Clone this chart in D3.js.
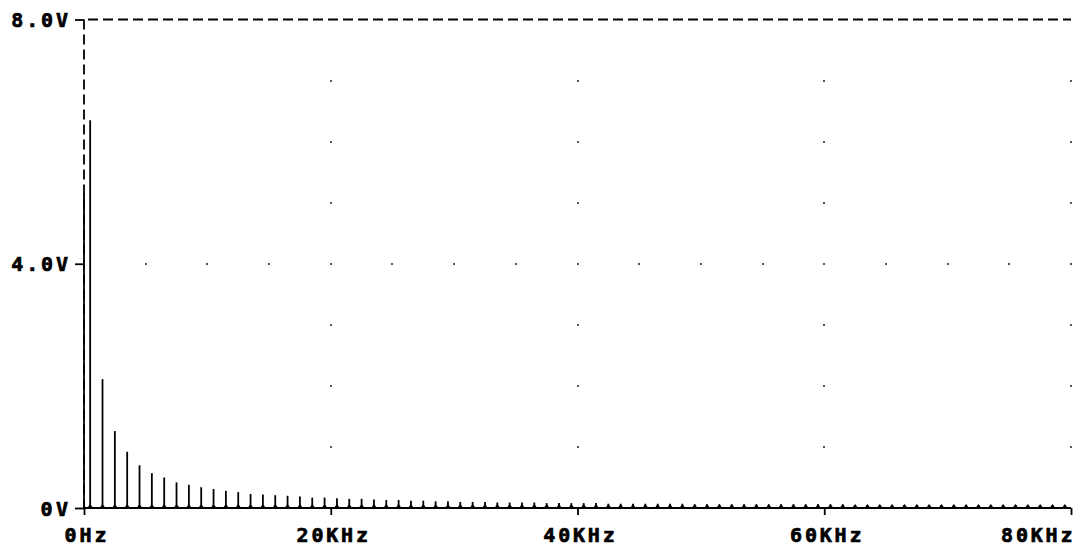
<!DOCTYPE html>
<html>
<head>
<meta charset="utf-8">
<script src="https://cdn.jsdelivr.net/npm/d3@7"></script>
<style>
  body { margin: 0; background: #fff; }
  svg { display: block; }
  .lbl { font-family: "DejaVu Sans Mono", monospace; font-weight: bold; font-size: 20px; fill: #000; stroke: #000; stroke-width: 0.7px; }
</style>
</head>
<body>
<div id="chart"></div>
<script>
// FFT spectrum: DC term plus odd harmonics of 500Hz
var freqKHz = [0, 0.5, 1.5, 2.5, 3.5, 4.5, 5.5, 6.5, 7.5, 8.5, 9.5,
    10.5, 11.5, 12.5, 13.5, 14.5, 15.5, 16.5, 17.5, 18.5, 19.5,
    20.5, 21.5, 22.5, 23.5, 24.5, 25.5, 26.5, 27.5, 28.5, 29.5,
    30.5, 31.5, 32.5, 33.5, 34.5, 35.5, 36.5, 37.5, 38.5, 39.5,
    40.5, 41.5, 42.5, 43.5, 44.5, 45.5, 46.5, 47.5, 48.5, 49.5,
    50.5, 51.5, 52.5, 53.5, 54.5, 55.5, 56.5, 57.5, 58.5, 59.5,
    60.5, 61.5, 62.5, 63.5, 64.5, 65.5, 66.5, 67.5, 68.5, 69.5,
    70.5, 71.5, 72.5, 73.5, 74.5, 75.5, 76.5, 77.5, 78.5, 79.5];
var volts = [5.15, 6.35, 2.11, 1.26, 0.92, 0.70, 0.57, 0.50, 0.42, 0.38, 0.34,
    0.31, 0.28, 0.26, 0.23, 0.22, 0.21, 0.20, 0.19, 0.17, 0.17,
    0.16, 0.15, 0.15, 0.14, 0.13, 0.13, 0.12, 0.12, 0.11, 0.11,
    0.10, 0.10, 0.10, 0.09, 0.09, 0.09, 0.09, 0.08, 0.08, 0.08,
    0.08, 0.08, 0.07, 0.07, 0.07, 0.07, 0.07, 0.07, 0.07, 0.06,
    0.06, 0.06, 0.06, 0.06, 0.06, 0.06, 0.06, 0.06, 0.06, 0.06,
    0.06, 0.06, 0.05, 0.05, 0.05, 0.05, 0.05, 0.05, 0.05, 0.05,
    0.05, 0.05, 0.05, 0.05, 0.05, 0.05, 0.04, 0.04, 0.04, 0.04];

var xTicks = [0, 20, 40, 60, 80];
var xTickLabels = ["0Hz", "20KHz", "40KHz", "60KHz", "80KHz"];
var yTicks = [0, 4, 8];
var yTickLabels = ["0V", "4.0V", "8.0V"];
var gridVolts = [1, 2, 3, 4, 5, 6, 7];
var gridKHz = [5, 10, 15, 20, 25, 30, 35, 40, 45, 50, 55, 60, 65, 70, 75, 80];

var W = 1076, H = 549;
var x = d3.scaleLinear().domain([0, 80]).range([84, 1071]);
var y = d3.scaleLinear().domain([0, 8]).range([508, 19.5]);

var svg = d3.select("#chart").append("svg")
    .attr("width", W).attr("height", H);

// dotted grid: vertical columns at the major x ticks, one row at 4V
var dots = [];
xTicks.slice(1).forEach(function(f){
    gridVolts.forEach(function(v){ dots.push([f, v]); });
});
gridKHz.forEach(function(f){ dots.push([f, 4]); });
svg.append("g").selectAll("rect").data(dots).enter().append("rect")
    .attr("x", function(d){ return Math.round(x(d[0])) - 1; })
    .attr("y", function(d){ return Math.round(y(d[1])) - 1; })
    .attr("width", 2).attr("height", 2)
    .attr("fill", "#555");

// top and left borders are dashed
svg.append("line")
    .attr("x1", x(0)).attr("x2", x(80))
    .attr("y1", y(8)).attr("y2", y(8))
    .attr("stroke", "#000").attr("stroke-width", 1.8)
    .attr("stroke-dasharray", "10,5").attr("stroke-dashoffset", -4);
svg.append("line")
    .attr("x1", x(0)).attr("x2", x(0))
    .attr("y1", y(8)).attr("y2", y(0))
    .attr("stroke", "#000").attr("stroke-width", 1.8)
    .attr("stroke-dasharray", "10,5");

// bottom axis line
svg.append("line")
    .attr("x1", x(0)).attr("x2", x(80))
    .attr("y1", y(0)).attr("y2", y(0))
    .attr("stroke", "#000").attr("stroke-width", 2);

// x ticks + labels
var xAxis = d3.axisBottom(x).tickValues(xTicks).tickSize(7).tickSizeOuter(0)
    .tickFormat(function(d, i){ return xTickLabels[i]; });
var gx = svg.append("g").attr("transform", "translate(0," + y(0) + ")").call(xAxis);
gx.select(".domain").remove();
gx.selectAll(".tick line").attr("stroke", "#000").attr("stroke-width", 1.8);
gx.selectAll(".tick text")
    .attr("class", "lbl")
    .attr("y", 34).attr("dy", null)
    .attr("textLength", function(d, i){ return xTickLabels[i].length * 14.7 - 2; })
    .attr("lengthAdjust", "spacing")
    .attr("text-anchor", function(d, i){ return i === xTicks.length - 1 ? "end" : "middle"; })
    .attr("x", function(d, i){ return i === xTicks.length - 1 ? 1072 - x(d) : 1; });

// y ticks + labels
var yAxis = d3.axisLeft(y).tickValues(yTicks).tickSize(9).tickSizeOuter(0).tickPadding(7)
    .tickFormat(function(d, i){ return yTickLabels[i]; });
var gy = svg.append("g").attr("transform", "translate(" + x(0) + ",0)").call(yAxis);
gy.select(".domain").remove();
gy.selectAll(".tick line").attr("stroke", "#000").attr("stroke-width", 1.8);
gy.selectAll(".tick text")
    .attr("class", "lbl")
    .attr("dy", "0.36em")
    .attr("textLength", function(d, i){ return yTickLabels[i].length * 14.7 - 2; })
    .attr("lengthAdjust", "spacing");

// spectrum lines with the little foot at each base
var spikes = svg.append("g");
freqKHz.forEach(function(f, i){
    var px = x(f);
    spikes.append("line")
        .attr("x1", px).attr("x2", px)
        .attr("y1", y(0)).attr("y2", y(volts[i]))
        .attr("stroke", "#000").attr("stroke-width", 1.8);
    if (i > 0) {
        spikes.append("path")
            .attr("d", "M" + (px - 3) + "," + y(0) + "L" + px + "," + (y(0) - 4) +
                  "L" + (px + 3) + "," + y(0) + "Z")
            .attr("fill", "#000");
    }
});
</script>
</body>
</html>
